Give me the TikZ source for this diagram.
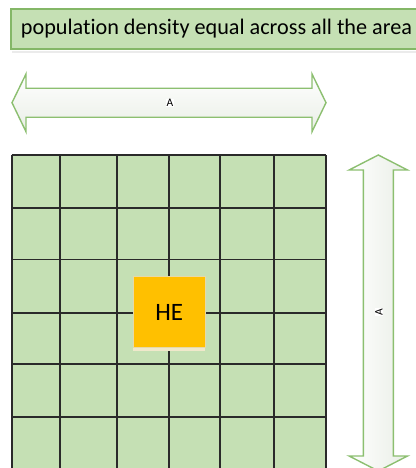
\documentclass[tikz,border=0pt]{standalone}
\usepackage{fontspec}
\setmainfont{Carlito}[Ligatures={NoCommon}]
\definecolor{gridgreen}{HTML}{C5E0B4}
\definecolor{boxgreen}{HTML}{84B767}
\definecolor{arrowgreen}{HTML}{8CBF70}
\definecolor{heorange}{HTML}{FFC000}
\definecolor{heborder}{HTML}{E6D9A8}
\definecolor{arrowshade}{HTML}{E9EEE6}
\definecolor{gridline}{HTML}{2A2A2A}
\begin{document}
\begin{tikzpicture}[x=1pt,y=-1pt,
  gridbg/.style={fill=gridgreen},
  gridrule/.style={draw=gridline,line width=1.6pt},
  dimarrow/.style={draw=arrowgreen,line width=1.4pt,line join=miter},
  dimlabel/.style={font=\fontsize{11.5}{13}\selectfont,fill=white,inner sep=0.8pt},
  titlebox/.style={fill=gridgreen,draw=boxgreen,line width=1.2pt},
  hebox/.style={fill=heorange,draw=heborder,line width=1pt,minimum width=71.7pt,minimum height=70.6pt,font=\fontsize{25}{30}\selectfont}
]
\useasboundingbox (0,0) rectangle (415,468);
% title
\fill[black!8] (12,51) rectangle (440,53);
\path[titlebox] (11,9) rectangle (440,49);
\node[anchor=west,inner sep=0pt,font=\fontsize{22.2}{26}\selectfont] (title) at (20.7,29) {population density equal across all the area};
% horizontal dimension arrow
\path[dimarrow,top color=white,bottom color=arrowshade]
  (12,102.7) -- (26,74) -- (26,88.3) -- (312,88.3) -- (312,74) -- (326,102.7)
  -- (312,131.7) -- (312,117.3) -- (26,117.3) -- (26,131.7) -- cycle;
\node[dimlabel] (la) at (170,103) {A};
% vertical dimension arrow
\path[dimarrow,left color=white,right color=arrowshade]
  (378.3,155) -- (407.5,170) -- (393.3,170) -- (393.3,456) -- (407.5,456) -- (378.3,471)
  -- (349.1,456) -- (363.3,456) -- (363.3,170) -- (349.1,170) -- cycle;
\node[dimlabel,rotate=90] (lb) at (379,312) {A};
% grid
\path[gridbg] (11.7,155) rectangle (326,475);
\foreach \x in {11.7,60,116.7,169,220,274,326}
  \draw[gridrule] (\x,155) -- (\x,475);
\foreach \y in {155,207.7,259.3,312.7,364,416.7}
  \draw[gridrule] (11.7,\y) -- (326,\y);
% HE
\fill[heborder!60] (133.3,347.3) rectangle (205,350.5);
\node[hebox] (he) at (169.2,312) {HE};
\end{tikzpicture}
\end{document}
